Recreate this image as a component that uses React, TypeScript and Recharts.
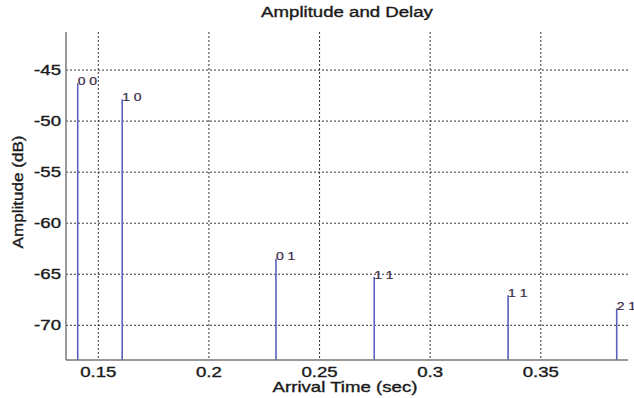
import React from 'react';
import { ComposedChart, XAxis, YAxis, CartesianGrid, Scatter, ReferenceLine, Label } from 'recharts';

const arrivalTimes = [0.1407, 0.1608, 0.2303, 0.2747, 0.3352, 0.3843];
const amplitudes = [-46.3, -47.85, -63.45, -65.25, -67.05, -68.35];
const pathLabels = ['0 0', '1 0', '0 1', '1 1', '1 1', '2 1'];
const xTicks = [0.15, 0.2, 0.25, 0.3, 0.35];
const yTicks = [-70, -65, -60, -55, -50, -45];
const xDomain = [0.1354, 0.3894];
const yDomain = [-73.4, -41.27];

const data = arrivalTimes.map((t, i) => ({ t, amp: amplitudes[i], label: pathLabels[i] }));

const FONT = '"Liberation Sans", Arial, Helvetica, sans-serif';
const STRETCH = 1.33;
const STEM = '#5a60bc';
const INK = '#1a1a1a';

const textStyle = { stroke: INK, strokeWidth: 0.35 };

const YTick = (props: any) => {
  const { x, y, payload } = props;
  return (
    <g transform={`translate(${x},${y})`}>
      <text transform={`scale(${STRETCH},1)`} textAnchor="end" dy="0.36em" fontSize={14} fontFamily={FONT} fill={INK} style={textStyle}>
        {String(payload.value)}
      </text>
    </g>
  );
};

const XTick = (props: any) => {
  const { x, y, payload } = props;
  return (
    <g transform={`translate(${x},${y + 17})`}>
      <text transform={`scale(${STRETCH},1)`} textAnchor="middle" fontSize={14} fontFamily={FONT} fill={INK} style={textStyle}>
        {String(payload.value)}
      </text>
    </g>
  );
};

const StemLabel = (props: any) => {
  const { cx, cy, payload } = props;
  if (cx == null || cy == null) return null;
  return (
    <g transform={`translate(${cx},${cy + 2})`}>
      <text transform={`scale(${STRETCH},1)`} fontSize={10.5} fontFamily={FONT} fill="#3a2a48" style={{ stroke: '#3a2a48', strokeWidth: 0.2 }}>
        {payload.label}
      </text>
    </g>
  );
};

const XLabel = (props: any) => {
  const vb = props.viewBox || {};
  const cx = vb.x + vb.width / 2 - 2;
  return (
    <g transform={`translate(${cx},392)`}>
      <text transform={`scale(${STRETCH},1)`} textAnchor="middle" fontSize={14} fontFamily={FONT} fill={INK} style={textStyle}>
        Arrival Time (sec)
      </text>
    </g>
  );
};

const YLabel = (props: any) => {
  const vb = props.viewBox || {};
  const cy = vb.y + vb.height / 2 - 4;
  return (
    <g transform={`translate(23,${cy}) rotate(-90)`}>
      <text transform={`scale(1.22,1)`} textAnchor="middle" fontSize={14} fontFamily={FONT} fill={INK} style={textStyle}>
        Amplitude (dB)
      </text>
    </g>
  );
};

export default function App() {
  return (
    <div style={{ position: 'absolute', left: 0, top: 0, width: 634, height: 398, background: '#fff', overflow: 'hidden' }}>
      <div
        style={{
          position: 'absolute',
          left: 0,
          top: 3,
          width: 694,
          textAlign: 'center',
          fontFamily: FONT,
          fontSize: 14,
          color: INK,
          WebkitTextStroke: '0.35px #1a1a1a',
          transform: `scaleX(${STRETCH})`,
          transformOrigin: '347px 0',
          lineHeight: '18px',
        }}
      >
        Amplitude and Delay
      </div>
      <ComposedChart width={634} height={398} margin={{ top: 32, right: 6, bottom: 0, left: 0 }}>
        <CartesianGrid stroke="#333" strokeDasharray="2 2" strokeWidth={1} horizontalValues={yTicks} verticalValues={xTicks} />
        <XAxis
          type="number"
          dataKey="t"
          domain={xDomain}
          ticks={xTicks}
          height={38}
          tickSize={0}
          tickMargin={0}
          tick={<XTick />}
          axisLine={{ stroke: '#777', strokeWidth: 1.5 }}
          tickLine={false}
        >
          <Label content={<XLabel />} position="center" />
        </XAxis>
        <YAxis
          type="number"
          dataKey="amp"
          domain={yDomain}
          ticks={yTicks}
          width={66}
          tickSize={0}
          tickMargin={5}
          tick={<YTick />}
          axisLine={{ stroke: '#777', strokeWidth: 1.5 }}
          tickLine={false}
        >
          <Label content={<YLabel />} position="center" />
        </YAxis>
        {data.map((d, i) => (
          <ReferenceLine
            key={i}
            segment={[{ x: d.t, y: yDomain[0] }, { x: d.t, y: d.amp }]}
            stroke={STEM}
            strokeWidth={1.6}
            ifOverflow="visible"
          />
        ))}
        <Scatter data={data} dataKey="amp" shape={<StemLabel />} isAnimationActive={false} />
      </ComposedChart>
    </div>
  );
}
